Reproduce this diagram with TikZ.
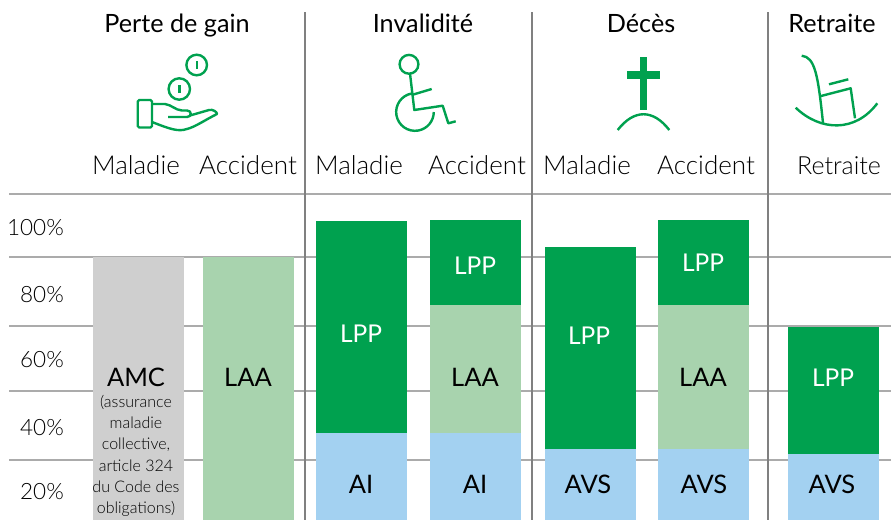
\documentclass[tikz,border=0pt]{standalone}
\usepackage{fontspec}
\setmainfont{Lato}
\newfontfamily\lightf{Lato Light}
\definecolor{dg}{HTML}{00A14F}
\definecolor{lg}{HTML}{A8D3AE}
\definecolor{bl}{HTML}{A3D1F1}
\definecolor{gy}{HTML}{CFCFCF}
\definecolor{ln}{HTML}{ABABAB}
\definecolor{vl}{HTML}{808080}
\definecolor{tx}{HTML}{000000}
\tikzset{
  grid/.style={draw=ln,line width=1.1pt},
  sep/.style={draw=vl,line width=1.1pt},
  title/.style={anchor=base,font=\fontsize{25.2}{25}\selectfont,text=black,inner sep=0pt},
  sub/.style={anchor=base,font=\lightf\fontsize{26}{26}\selectfont,text=tx,inner sep=0pt},
  subr/.style={anchor=base,font=\lightf\fontsize{25}{25}\selectfont,text=tx,inner sep=0pt},
  pct/.style={anchor=base east,font=\lightf\fontsize{22.5}{23}\selectfont,text=tx,inner sep=0pt},
  lab/.style={anchor=base,font=\fontsize{25.5}{25}\selectfont,text=black,inner sep=0pt},
  wlab/.style={anchor=base,font=\fontsize{24.5}{25}\selectfont,text=white,inner sep=0pt},
  small/.style={anchor=base,font=\lightf\fontsize{16}{16}\selectfont,text=tx,inner sep=0pt},
  icon/.style={draw=dg,line width=2.4pt,fill=none},
}
\newcommand{\barrect}[5]{\fill[#5] (#1,#3) rectangle (#2,#4);}
\begin{document}
\begin{tikzpicture}[x=1pt,y=-1pt]
\useasboundingbox (0,0) rectangle (891,520);
% grid
\foreach \y/\n in {194/a,257/b,326/c,391/d,460/e}{
  \coordinate (gl\n) at (9,\y); \coordinate (gr\n) at (891,\y);
  \draw[grid] (gl\n) -- (gr\n);
}
\foreach \x/\n in {305/a,532/b,768/c}{
  \coordinate (st\n) at (\x,12); \coordinate (sb\n) at (\x,520);
  \draw[sep] (st\n) -- (sb\n);
}
% bars
\barrect{93}{184}{257}{520}{gy}
\barrect{203}{294}{257}{520}{lg}
\barrect{316}{407}{221}{433}{dg}
\barrect{316}{407}{433}{520}{bl}
\barrect{430}{521}{220}{305}{dg}
\barrect{430}{521}{305}{433}{lg}
\barrect{430}{521}{433}{520}{bl}
\barrect{545}{636}{247}{449}{dg}
\barrect{545}{636}{449}{520}{bl}
\barrect{658}{749}{220}{305}{dg}
\barrect{658}{749}{305}{449}{lg}
\barrect{658}{749}{449}{520}{bl}
\barrect{788}{879}{327}{454}{dg}
\barrect{788}{879}{454}{520}{bl}
% titles
\node[title] (t1) at (177,32) {Perte de gain};
\node[title] (t2) at (423,32) {Invalidité};
\node[title] (t3) at (641,32) {Décès};
\node[title] (t4) at (832,32) {Retraite};
\node[sub] (s1) at (136,174) {Maladie};
\node[sub] (s2) at (248,174) {Accident};
\node[sub] (s3) at (359,174) {Maladie};
\node[sub] (s4) at (477,174) {Accident};
\node[sub] (s5) at (587,174) {Maladie};
\node[sub] (s6) at (706,174) {Accident};
\node[subr] (s7) at (839,174) {Retraite};
\node[pct] (p1) at (64,235) {100\%};
\node[pct] (p2) at (64,302) {80\%};
\node[pct] (p3) at (64,367) {60\%};
\node[pct] (p4) at (64,435) {40\%};
\node[pct] (p5) at (64,499) {20\%};
% bar labels
\node[lab] (l1) at (136,386) {AMC};
\node[small] (m1) at (136,407) {(assurance};
\node[small] (m2) at (136,428) {maladie};
\node[small] (m3) at (136,449) {collective,};
\node[small] (m4) at (136,471) {article 324};
\node[small] (m5) at (136,492) {du Code des};
\node[small] (m6) at (136,513) {obligations)};
\node[lab] (l2) at (248,386) {LAA};
\node[wlab] (l3) at (361,342) {LPP};
\node[wlab] (l4) at (475,274) {LPP};
\node[lab] (l5) at (475,386) {LAA};
\node[lab] (l6) at (361,493) {AI};
\node[lab] (l7) at (475,493) {AI};
\node[wlab] (l8) at (589,344) {LPP};
\node[lab] (l9) at (588,493) {AVS};
\node[wlab] (l10) at (703,271) {LPP};
\node[lab] (l11) at (703,386) {LAA};
\node[lab] (l12) at (704,493) {AVS};
\node[wlab] (l13) at (833,386) {LPP};
\node[lab] (l14) at (832,493) {AVS};
% hand icon
\draw[icon] (196.7,65) circle (10.3);
\draw[icon] (179.3,89) circle (10.7);
\draw[icon] (196.7,61) -- (196.7,69);
\draw[icon] (179.3,85) -- (179.3,93);
\draw[icon,rounded corners=1.5pt] (137.7,100) rectangle (152,127.5);
\draw[icon,line join=round] (152,104) -- (165,104) .. controls (172,105) and (175,110) .. (182,110.5) -- (187,110.5) .. controls (192,110.5) and (192,117) .. (187,117) -- (168,117);
\draw[icon,line join=round] (190,115.5) -- (209,110) .. controls (213,109) and (217,112) .. (217,114) .. controls (205,120) and (195,127) .. (187,129) .. controls (178,132) and (170,129) .. (152,122);
% wheelchair
\draw[icon] (409,64.3) circle (9.4);
\draw[icon,line join=round] (410,73.5) -- (414.3,110) -- (442.7,105.7) -- (448.3,123.3) -- (455.7,121.3);
\draw[icon] (411.7,95) -- (431.7,89);
\draw[icon] (411.7,93.5) arc[start angle=260,end angle=0,radius=18.8];
% cross
\fill[dg] (639.7,57.3) rectangle (647.3,110);
\fill[dg] (626.7,70.7) rectangle (660,79);
\draw[icon] (617.7,130) .. controls (634,109) and (653,109) .. (669.3,130);
% rocking chair
\draw[icon] (801.7,55.7) .. controls (815,57) and (818,75) .. (823,123);
\draw[icon,line join=round] (821,96) -- (850.7,88.3) -- (855,118.3);
\draw[icon] (829,84.3) -- (848.3,79.3);
\draw[icon] (795.7,107.7) .. controls (820,131) and (855,133) .. (877.3,103.3);
\end{tikzpicture}
\end{document}
